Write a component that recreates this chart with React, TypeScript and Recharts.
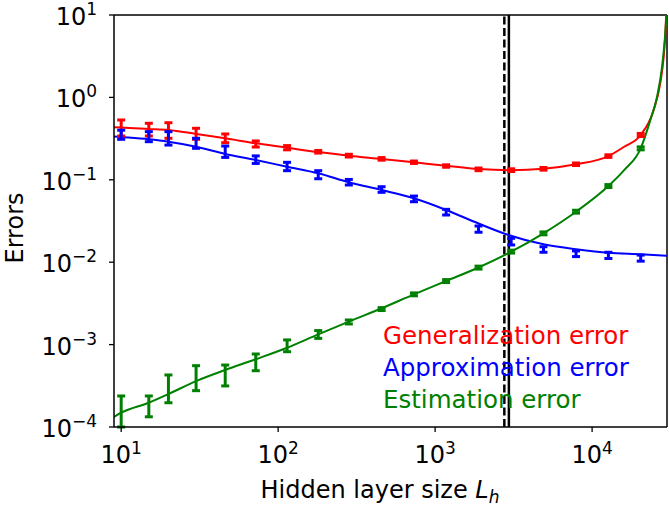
import {
  ComposedChart,
  ErrorBar,
  Legend,
  Line,
  ReferenceLine,
  Scatter,
  XAxis,
  YAxis,
} from "recharts";

const FONT = "'DejaVu Sans', sans-serif";

// hidden layer sizes where the errors were measured
const sizes = [10, 15, 20, 30, 46, 72, 114, 180, 282, 456, 733, 1175, 1890, 3050, 4900, 7900, 12700, 20400];

const genMean = [0.43, 0.417, 0.417, 0.366, 0.318, 0.272, 0.245, 0.219, 0.196, 0.179, 0.163, 0.147, 0.134, 0.131, 0.136, 0.154, 0.194, 0.35];
const genLow = [0.34, 0.34, 0.319, 0.31, 0.282, 0.25, 0.231, 0.211, 0.189, 0.173, 0.158, 0.142, 0.129, 0.126, 0.131, 0.149, 0.187, 0.335];
const genHigh = [0.532, 0.485, 0.493, 0.422, 0.36, 0.296, 0.26, 0.227, 0.204, 0.186, 0.169, 0.152, 0.139, 0.136, 0.141, 0.16, 0.201, 0.365];

const apxMean = [0.34, 0.328, 0.299, 0.27, 0.219, 0.177, 0.144, 0.117, 0.0933, 0.0767, 0.0596, 0.0403, 0.0253, 0.0177, 0.0143, 0.0126, 0.0122, 0.0113];
const apxLow = [0.31, 0.29, 0.264, 0.241, 0.187, 0.158, 0.129, 0.103, 0.0865, 0.0705, 0.0542, 0.0374, 0.0231, 0.0162, 0.0132, 0.0117, 0.0111, 0.0103];
const apxHigh = [0.4, 0.384, 0.384, 0.319, 0.257, 0.195, 0.163, 0.129, 0.101, 0.0824, 0.0635, 0.0438, 0.0275, 0.0195, 0.0154, 0.0137, 0.0132, 0.0122];

const estMean = [1.56e-4, 1.8e-4, 2.89e-4, 3.94e-4, 4.22e-4, 6.15e-4, 9.62e-4, 1.33e-3, 1.88e-3, 2.7e-3, 4.07e-3, 5.9e-3, 8.6e-3, 0.0134, 0.0224, 0.041, 0.084, 0.241];
const estLow = [1.0e-4, 1.33e-4, 1.97e-4, 2.76e-4, 3.15e-4, 4.82e-4, 8.2e-4, 1.19e-3, 1.78e-3, 2.59e-3, 3.91e-3, 5.66e-3, 8.25e-3, 0.0129, 0.0215, 0.0394, 0.0806, 0.231];
const estHigh = [2.38e-4, 2.38e-4, 4.28e-4, 5.55e-4, 5.65e-4, 7.69e-4, 1.14e-3, 1.48e-3, 1.99e-3, 2.81e-3, 4.24e-3, 6.15e-3, 8.96e-3, 0.014, 0.0233, 0.0427, 0.0875, 0.251];

// theory curves
const genCurveX = [9, 10, 15, 20, 30, 46, 72, 114, 180, 282, 456, 733, 1175, 1890, 3050, 4900, 7900, 12700, 16000, 20400, 24660, 27200, 28570, 29290, 29630];
const genCurveY = [0.434, 0.431, 0.414, 0.402, 0.36, 0.319, 0.277, 0.245, 0.217, 0.196, 0.179, 0.163, 0.148, 0.135, 0.131, 0.136, 0.154, 0.194, 0.252, 0.35, 0.703, 1.5, 3.09, 6.0, 10];

const apxCurveX = [9, 10, 15, 20, 30, 46, 72, 114, 180, 282, 456, 733, 1175, 1890, 2930, 4900, 7900, 12700, 20400, 30000];
const apxCurveY = [0.335, 0.33, 0.31, 0.29, 0.252, 0.206, 0.174, 0.144, 0.12, 0.0933, 0.0752, 0.0596, 0.043, 0.0295, 0.0214, 0.0165, 0.0144, 0.013, 0.0125, 0.012];

const estCurveX = [9, 10, 15, 20, 30, 46, 72, 114, 180, 282, 456, 733, 1175, 1890, 3050, 4900, 7900, 12700, 16000, 20400, 23490, 25940, 27920, 29040, 29800];
const estCurveY = [1.33e-4, 1.49e-4, 1.97e-4, 2.51e-4, 3.61e-4, 4.92e-4, 6.64e-4, 9.16e-4, 1.33e-3, 1.9e-3, 2.76e-3, 4.07e-3, 5.92e-3, 8.63e-3, 0.0134, 0.0224, 0.041, 0.0841, 0.131, 0.241, 0.53, 1.02, 2.36, 4.98, 10];

const xDomain = [9, 30000];
const yDomain = [1e-4, 10];
const xTicks = [10, 100, 1000, 10000];
const yTicks = [1e-4, 1e-3, 1e-2, 1e-1, 1, 10];

const optimalDashed = 2760;
const optimalSolid = 2950;

const legendNames = ["Generalization error", "Approximation error", "Estimation error"];
const legendColors = ["#ff0000", "#0000ff", "#008000"];

function buildPoints(means: number[], lows: number[], highs: number[]) {
  return sizes.map((x, i) => ({
    x,
    y: means[i],
    err: [means[i] - lows[i], highs[i] - means[i]],
  }));
}

function buildCurve(xs: number[], ys: number[]) {
  return xs.map((x, i) => ({ x, y: ys[i] }));
}

const genPts = buildPoints(genMean, genLow, genHigh);
const apxPts = buildPoints(apxMean, apxLow, apxHigh);
const estPts = buildPoints(estMean, estLow, estHigh);

const genCurve = buildCurve(genCurveX, genCurveY);
const apxCurve = buildCurve(apxCurveX, apxCurveY);
const estCurve = buildCurve(estCurveX, estCurveY);

function expLabel(v: number) {
  const e = Math.round(Math.log10(v));
  return e < 0 ? `\u2212${-e}` : `${e}`;
}

function PowerTickX(props: any) {
  const { x, y, payload } = props;
  return (
    <text x={x} y={y + 29} textAnchor="middle" fontFamily={FONT} fontSize={24} fill="#000">
      10
      <tspan dy={-9} fontSize={17}>
        {expLabel(payload.value)}
      </tspan>
    </text>
  );
}

function PowerTickY(props: any) {
  const { x, y, payload } = props;
  return (
    <text x={x - 10} y={y + 10} textAnchor="end" fontFamily={FONT} fontSize={24} fill="#000">
      10
      <tspan dy={-10} fontSize={17}>
        {expLabel(payload.value)}
      </tspan>
    </text>
  );
}

function LegendBox() {
  return (
    <div style={{ fontFamily: FONT, fontSize: 24.5, lineHeight: "32px" }}>
      {legendNames.map((name, i) => (
        <div key={name} style={{ color: legendColors[i], whiteSpace: "nowrap" }}>
          {name}
        </div>
      ))}
    </div>
  );
}

const noShape = () => <g />;

export default function App() {
  const axisProps = {
    xAxisId: "b",
    yAxisId: "l",
  };
  return (
    <div style={{ position: "absolute", left: 0, top: 0, width: 669, height: 507, background: "#fff" }}>
      <ComposedChart width={669} height={507} margin={{ top: 15, right: 2, bottom: 0, left: 0 }}>
        <XAxis
          xAxisId="b"
          dataKey="x"
          type="number"
          scale="log"
          domain={xDomain}
          allowDataOverflow
          ticks={xTicks}
          interval={0}
          tick={<PowerTickX />}
          tickSize={5}
          height={80}
          axisLine={{ stroke: "#000", strokeWidth: 1.5 }}
          tickLine={{ stroke: "#000", strokeWidth: 1.3 }}
          label={{
            content: () => (
              <text x={380} y={498} textAnchor="middle" fontFamily={FONT} fontSize={24} fill="#000">
                Hidden layer size{" "}
                <tspan fontStyle="italic">L</tspan>
                <tspan dy={5} fontSize={17} fontStyle="italic">
                  h
                </tspan>
              </text>
            ),
          }}
        />
        <YAxis
          yAxisId="l"
          dataKey="y"
          type="number"
          scale="log"
          domain={yDomain}
          allowDataOverflow
          ticks={yTicks}
          interval={0}
          tick={<PowerTickY />}
          tickSize={5}
          width={114}
          axisLine={{ stroke: "#000", strokeWidth: 1.5 }}
          tickLine={{ stroke: "#000", strokeWidth: 1.3 }}
          label={{
            content: () => (
              <text
                x={23}
                y={228}
                textAnchor="middle"
                fontFamily={FONT}
                fontSize={24}
                fill="#000"
                transform="rotate(-90, 23, 228)"
              >
                Errors
              </text>
            ),
          }}
        />

        {/* top and right spines */}
        <ReferenceLine {...axisProps} y={yDomain[1]} stroke="#000" strokeWidth={1.5} />
        <ReferenceLine {...axisProps} x={xDomain[1]} stroke="#000" strokeWidth={1.5} />

        <ReferenceLine {...axisProps} x={optimalDashed} stroke="#000" strokeWidth={2.5} strokeDasharray="8 3.5" />
        <ReferenceLine {...axisProps} x={optimalSolid} stroke="#000" strokeWidth={2.5} />

        <Line {...axisProps} data={genCurve} dataKey="y" type="monotone" stroke="#ff0000" strokeWidth={2} dot={false} isAnimationActive={false} />
        <Line {...axisProps} data={apxCurve} dataKey="y" type="monotone" stroke="#0000ff" strokeWidth={2} dot={false} isAnimationActive={false} />
        <Line {...axisProps} data={estCurve} dataKey="y" type="monotone" stroke="#008000" strokeWidth={2} dot={false} isAnimationActive={false} />

        <Scatter {...axisProps} data={genPts} dataKey="y" shape={noShape} isAnimationActive={false}>
          <ErrorBar dataKey="err" direction="y" width={4} strokeWidth={3} stroke="#ff0000" isAnimationActive={false} />
        </Scatter>
        <Scatter {...axisProps} data={apxPts} dataKey="y" shape={noShape} isAnimationActive={false}>
          <ErrorBar dataKey="err" direction="y" width={4} strokeWidth={3} stroke="#0000ff" isAnimationActive={false} />
        </Scatter>
        <Scatter {...axisProps} data={estPts} dataKey="y" shape={noShape} isAnimationActive={false}>
          <ErrorBar dataKey="err" direction="y" width={4} strokeWidth={3} stroke="#008000" isAnimationActive={false} />
        </Scatter>

        <Legend
          layout="vertical"
          align="center"
          verticalAlign="middle"
          content={<LegendBox />}
          wrapperStyle={{ position: "absolute", left: 383, top: 320, width: 280 }}
        />
      </ComposedChart>
    </div>
  );
}
